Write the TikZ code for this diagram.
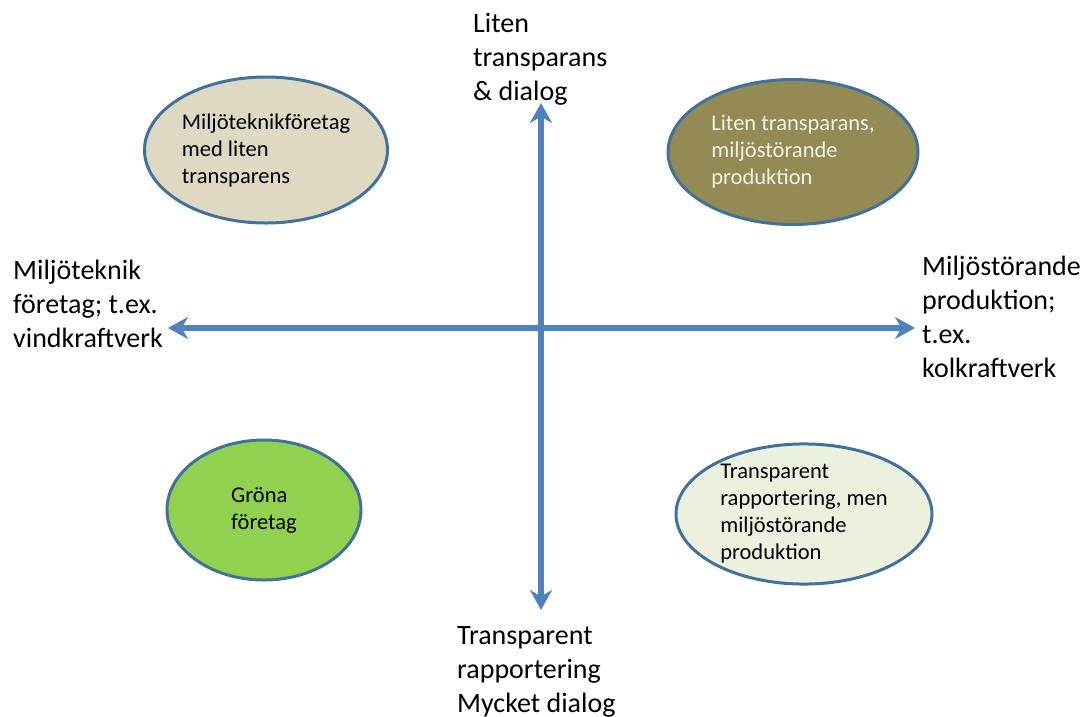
\documentclass[tikz,border=0pt]{standalone}
\usepackage{fontspec}
\setmainfont{Carlito}
\usetikzlibrary{positioning, arrows.meta, shapes}
\definecolor{axisblue}{HTML}{4F81BD}
\definecolor{rimblue}{HTML}{41719C}
\definecolor{beige}{HTML}{DDD9C3}
\definecolor{khaki}{HTML}{948A54}
\definecolor{leaf}{HTML}{92D050}
\definecolor{mint}{HTML}{EBF1DE}
\definecolor{cream}{HTML}{F2F2EA}

\begin{document}
\begin{tikzpicture}[x = 1pt, y = -1pt]

\tikzset{
quadrant/.style = {ellipse, draw = rimblue, line width = 3pt, inner sep = 0pt,
	align = left, font = \fontsize{22.5}{27}\selectfont},
pole/.style = {inner sep = 0pt, anchor = base west, align = left,
	font = \fontsize{28}{34}\selectfont},
axis/.style = {{Stealth[length = 20pt, width = 22pt]}-{Stealth[length = 20pt, width = 22pt]},
	line width = 5.5pt, draw = axisblue},
	}

\useasboundingbox (0, 0) rectangle (1088, 716);

%% Axes
\coordinate (west) at (168, 328);
\coordinate (east) at (915, 328);
\coordinate (north) at (541, 103);
\coordinate (south) at (541, 610);

\draw [axis] (west) -- (east);
\draw [axis] (south) -- (north);

%% Poles (placed at the baseline of their last line)
\node at (473, 100) [pole] (top) {Liten\\transparans\\\& dialog};
\node at (457, 712) [pole] (bottom) {Transparent\\rapportering\\Mycket dialog};
\node at (13, 347) [pole] (left) {Miljöteknik\\företag; t.ex.\\vindkraftverk};
\node at (922, 377) [pole] (right) {Miljöstörande\\produktion;\\t.ex.\\kolkraftverk};

%% Quadrants
\node at (266, 150) [quadrant, fill = beige, minimum width = 243pt, minimum height = 146pt]
	(tl) {Miljöteknikföretag\\med liten\\transparens};
\node at (793, 152) [quadrant, fill = khaki, text = cream, minimum width = 250pt, minimum height = 145pt]
	(tr) {Liten transparans,\\miljöstörande\\produktion};
\node at (264, 510) [quadrant, fill = leaf, minimum width = 194pt, minimum height = 140pt]
	(bl) {Gröna\\företag};
\node at (804, 514) [quadrant, fill = mint, minimum width = 256pt, minimum height = 136pt]
	(br) {Transparent\\rapportering, men\\miljöstörande\\produktion};

\end{tikzpicture}
\end{document}
